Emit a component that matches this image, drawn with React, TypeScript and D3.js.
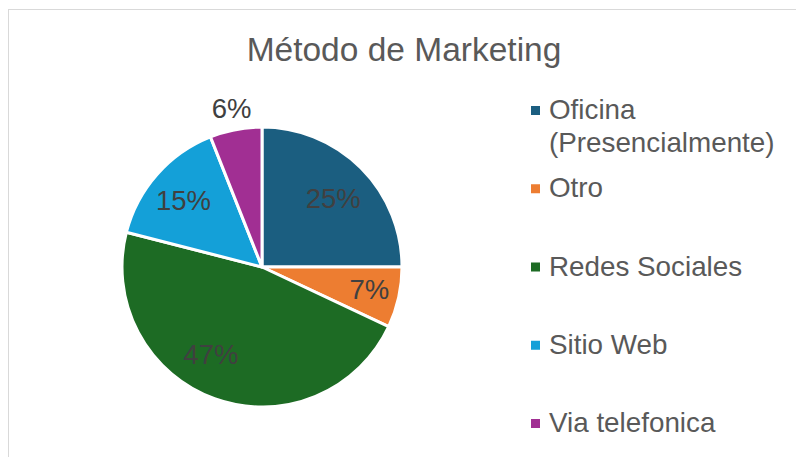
import React from "react";
import * as d3 from "d3";

const categories = ["Oficina (Presencialmente)", "Otro", "Redes Sociales", "Sitio Web", "Via telefonica"];
const legendLines = [["Oficina", "(Presencialmente)"], ["Otro"], ["Redes Sociales"], ["Sitio Web"], ["Via telefonica"]];
const values = [25, 7, 47, 15, 6];
const colors = ["#1b5e80", "#ed7d31", "#1d6b24", "#14a0d8", "#a12f93"];
const title = "Método de Marketing";

const W = 796;
const H = 457;
const FONT = "'Liberation Sans', Arial, Helvetica, sans-serif";

// label placement nudges (layout only), in px
const labelNudge = [
  [0, 2],
  [9, 0],
  [-17, -8],
  [-3, 0],
  [0, 0],
];

export default function App() {
  const cx = 262;
  const cy = 267;
  const R = 140;
  const total = d3.sum(values);
  const pie = d3.pie<number>().sort(null).value((d) => d)(values);
  const arc = d3.arc<d3.PieArcDatum<number>>().innerRadius(0).outerRadius(R);
  const inLabel = d3.arc<d3.PieArcDatum<number>>().innerRadius(R * 0.72).outerRadius(R * 0.72);
  const outLabel = d3.arc<d3.PieArcDatum<number>>().innerRadius(R + 22).outerRadius(R + 22);

  const legendX = 531;
  const lineH = 33;
  const legendY = d3.scaleLinear().domain([0, legendLines.length - 1]).range([119, 432]);

  return (
    <svg width={W} height={H} style={{ position: "absolute", left: 0, top: 0, background: "#fff" }} fontFamily={FONT}>
      <rect x={8.5} y={9.5} width={W + 20} height={H + 20} fill="#fff" stroke="#d9d9d9" strokeWidth={1} />
      <text x={404} y={61} textAnchor="middle" fontSize={33.5} fill="#595959">
        {title}
      </text>
      <g transform={`translate(${cx},${cy})`}>
        {pie.map((p, i) => (
          <path key={categories[i]} d={arc(p) as string} fill={colors[i]} stroke="#fff" strokeWidth={3} strokeLinejoin="round" />
        ))}
        {pie.map((p, i) => {
          const frac = values[i] / total;
          const [lx, ly] = frac < 0.065 ? outLabel.centroid(p) : inLabel.centroid(p);
          return (
            <text
              key={"l" + i}
              x={lx + labelNudge[i][0]}
              y={ly + labelNudge[i][1]}
              dy="0.36em"
              textAnchor="middle"
              fontSize={27.5}
              fill="#404040"
            >
              {Math.round(frac * 100) + "%"}
            </text>
          );
        })}
      </g>
      {legendLines.map((lines, i) => {
        const y = legendY(i);
        return (
          <g key={"g" + i}>
            <rect x={legendX} y={y - 13} width={9} height={9} fill={colors[i]} />
            {lines.map((ln, j) => (
              <text key={j} x={549} y={y + j * lineH} fontSize={27.8} fill="#595959">
                {ln}
              </text>
            ))}
          </g>
        );
      })}
    </svg>
  );
}
